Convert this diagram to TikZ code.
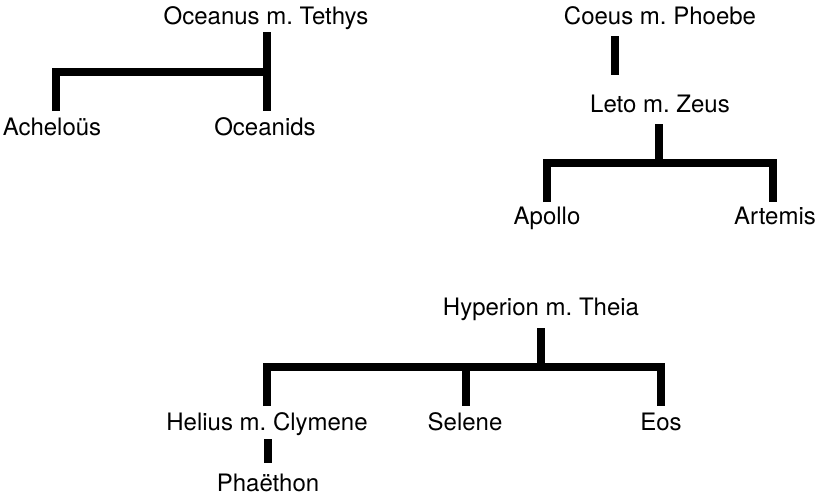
\documentclass[tikz,border=0pt]{standalone}
\usepackage{fontspec}
\setmainfont{TeX Gyre Heros}
\begin{document}
\frenchspacing
\begin{tikzpicture}[x=1pt,y=-1pt,
  lbl/.style={anchor=base,inner sep=0pt,font=\fontsize{24}{28}\selectfont},
  bar/.style={line width=8pt,line cap=butt,line join=miter}]
\useasboundingbox (0,0) rectangle (821,496);
% labels
\node[lbl] (oce) at (266,24) {Oceanus m. Tethys};
\node[lbl] (ach) at (52,135) {Acheloüs};
\node[lbl] (ocd) at (265,135) {Oceanids};
\node[lbl] (coe) at (660,24) {Coeus m. Phoebe};
\node[lbl] (let) at (660,112) {Leto m. Zeus};
\node[lbl] (apo) at (547,224) {Apollo};
\node[lbl] (art) at (775,224) {Artemis};
\node[lbl] (hyp) at (541,315) {Hyperion m. Theia};
\node[lbl] (hel) at (267,430) {Helius m. Clymene};
\node[lbl] (sel) at (465,430) {Selene};
\node[lbl] (eos) at (661,430) {Eos};
\node[lbl] (pha) at (268,491) {Phaëthon};
% junction coordinates
\coordinate (oceT) at (267,32);
\coordinate (oceJ) at (267,72);
\coordinate (ocdT) at (267,111);
\coordinate (achJ) at (56,72);
\coordinate (achT) at (56,111);
\coordinate (coeB) at (615,36);
\coordinate (letT) at (615,75);
\coordinate (letB) at (659,124);
\coordinate (letJ) at (659,163);
\coordinate (apoJ) at (547,163);
\coordinate (apoT) at (547,202);
\coordinate (artJ) at (773,163);
\coordinate (artT) at (773,202);
\coordinate (hypB) at (541,328);
\coordinate (hypJ) at (541,367);
\coordinate (helJ) at (267,367);
\coordinate (helT) at (267,406);
\coordinate (selJ) at (466,367);
\coordinate (selT) at (466,406);
\coordinate (eosJ) at (661,367);
\coordinate (eosT) at (661,406);
\coordinate (helB) at (268,439);
\coordinate (phaT) at (268,463);
% connectors
\draw[bar] (oceT) -- (ocdT);
\draw[bar] (achT) -- (achJ) -- (oceJ);
\draw[bar] (coeB) -- (letT);
\draw[bar] (letB) -- (letJ);
\draw[bar] (apoT) -- (apoJ) -- (artJ) -- (artT);
\draw[bar] (hypB) -- (hypJ);
\draw[bar] (helT) -- (helJ) -- (eosJ) -- (eosT);
\draw[bar] (selJ) -- (selT);
\draw[bar] (helB) -- (phaT);
\end{tikzpicture}
\end{document}
